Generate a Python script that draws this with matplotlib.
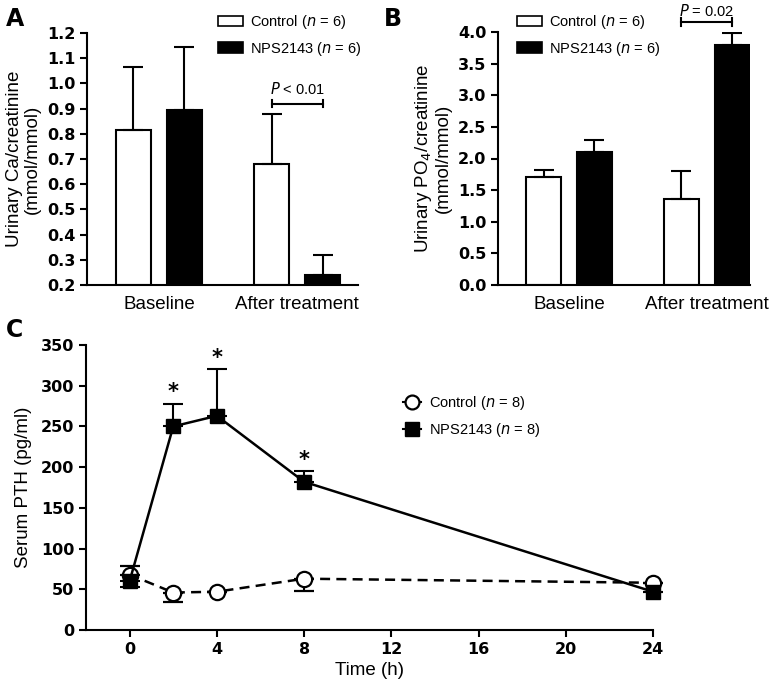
import numpy as np
import matplotlib
matplotlib.use('Agg')
import matplotlib.pyplot as plt
from matplotlib.patches import Patch
from matplotlib.lines import Line2D
from matplotlib.font_manager import FontProperties

# Panel A: urinary Ca/creatinine
groups = ['Baseline', 'After treatment']
ca_control = [0.815, 0.68]
ca_control_err = [0.25, 0.20]
ca_nps = [0.895, 0.24]
ca_nps_err = [0.25, 0.08]

# Panel B: urinary PO4/creatinine
po4_control = [1.70, 1.36]
po4_control_err = [0.12, 0.45]
po4_nps = [2.10, 3.80]
po4_nps_err = [0.20, 0.18]

# Panel C: serum PTH time course
hours = [0, 2, 4, 8, 24]
pth_control = [68, 46, 47, 63, 58]
pth_control_lo = [0, 11, 0, 15, 0]
pth_control_hi = [11, 0, 0, 0, 0]
pth_nps = [60, 250, 263, 182, 47]
pth_nps_lo = [7, 0, 0, 0, 0]
pth_nps_hi = [0, 28, 57, 13, 0]
star_hours = [2, 4, 8]

W, H = 783, 685
fig = plt.figure(figsize=(W / 100, H / 100), dpi=100)
plt.rcParams['font.family'] = ['Liberation Sans', 'DejaVu Sans']

tick_fp = FontProperties(family='DejaVu Sans', weight='bold', size=11.5)
LAB = 13.5
LEG = 10.5


def px_axes(left, top, right, bottom):
    return fig.add_axes([left / W, 1 - bottom / H, (right - left) / W, (bottom - top) / H])


def style(ax):
    for s in ['top', 'right']:
        ax.spines[s].set_visible(False)
    for s in ['left', 'bottom']:
        ax.spines[s].set_linewidth(1.5)
    ax.tick_params(width=1.5, length=5, direction='out')
    for lab in ax.get_yticklabels():
        lab.set_fontproperties(tick_fp)


def bar_panel(ax, ctrl, ctrl_err, nps, nps_err, bottom):
    x = np.arange(len(groups))
    off, w = 0.185, 0.254
    ek = dict(elinewidth=1.5, capsize=7, capthick=1.5, ecolor='black')
    ax.bar(x - off, np.array(ctrl) - bottom, w, bottom=bottom, color='white',
           edgecolor='black', linewidth=1.5,
           yerr=[np.zeros(len(ctrl)), ctrl_err], error_kw=ek, zorder=2)
    ax.bar(x + off, np.array(nps) - bottom, w, bottom=bottom, color='black',
           edgecolor='black', linewidth=1.5,
           yerr=[np.zeros(len(nps)), nps_err], error_kw=ek, zorder=2)
    ax.set_xticks(x)
    ax.set_xticklabels(groups, fontsize=LAB)
    return x, off


def bracket(ax, off, yb, tick, gap, label):
    ax.plot([1 - off, 1 + off], [yb, yb], color='black', lw=1.5, clip_on=False)
    for xx in (1 - off, 1 + off):
        ax.plot([xx, xx], [yb - tick, yb + tick], color='black', lw=1.5, clip_on=False)
    ax.text(1, yb + gap, label, ha='center', va='bottom', fontsize=LEG)


handles = [Patch(facecolor='white', edgecolor='black', linewidth=1.2),
           Patch(facecolor='black', edgecolor='black', linewidth=1.2)]
leg_kw = dict(loc='upper left', frameon=False, fontsize=LEG, handlelength=1.7,
              handleheight=0.75, handletextpad=0.5, labelspacing=0.6,
              borderaxespad=0, borderpad=0)

# ---- A ----
axA = px_axes(87, 33, 358, 285)
x, off = bar_panel(axA, ca_control, ca_control_err, ca_nps, ca_nps_err, 0.2)
axA.set_ylim(0.2, 1.2)
axA.set_xlim(-0.52, 1.44)
axA.set_yticks(np.arange(0.2, 1.21, 0.1))
axA.set_yticklabels([f'{v:.1f}' for v in np.arange(0.2, 1.21, 0.1)])
axA.set_ylabel('Urinary Ca/creatinine\n(mmol/mmol)', fontsize=LAB, labelpad=4,
               linespacing=1.1)
style(axA)
axA.tick_params(axis='x', length=0, pad=8)
bracket(axA, off, 0.92, 0.015, 0.025, '$\\it{P}$ < 0.01')
axA.legend(handles, ['Control ($\\it{n}$ = 6)', 'NPS2143 ($\\it{n}$ = 6)'],
           bbox_to_anchor=((218 - 87) / 271, 1 + 20 / 252), **leg_kw)
fig.text(6 / W, 1 - 19 / H, 'A', fontsize=17, fontweight='bold', va='center',
         family='DejaVu Sans')

# ---- B ----
axB = px_axes(498, 32, 750, 285)
x, off = bar_panel(axB, po4_control, po4_control_err, po4_nps, po4_nps_err, 0.0)
axB.set_ylim(0, 4.0)
axB.set_xlim(-0.516, 1.316)
axB.set_yticks(np.arange(0, 4.01, 0.5))
axB.set_yticklabels([f'{v:.1f}' for v in np.arange(0, 4.01, 0.5)])
axB.set_ylabel('Urinary PO$_4$/creatinine\n(mmol/mmol)', fontsize=LAB, labelpad=4,
               linespacing=1.1)
style(axB)
axB.tick_params(axis='x', length=0, pad=8)
bracket(axB, off, 4.16, 0.06, 0.05, '$\\it{P}$ = 0.02')
axB.legend(handles, ['Control ($\\it{n}$ = 6)', 'NPS2143 ($\\it{n}$ = 6)'],
           bbox_to_anchor=((517 - 498) / 252, 1 + 19 / 253), **leg_kw)
fig.text(384 / W, 1 - 19 / H, 'B', fontsize=17, fontweight='bold', va='center',
         family='DejaVu Sans')

# ---- C ----
axC = px_axes(86, 345, 653, 630)
axC.errorbar(hours, pth_control, yerr=[pth_control_lo, pth_control_hi], color='black',
             lw=1.8, ls=(0, (4, 2.5)), marker='o', markersize=11, markerfacecolor='white',
             markeredgewidth=1.6, capsize=7, capthick=1.5, elinewidth=1.5, zorder=3,
             clip_on=False)
axC.errorbar(hours, pth_nps, yerr=[pth_nps_lo, pth_nps_hi], color='black', lw=1.8,
             marker='s', markersize=10, capsize=7, capthick=1.5, elinewidth=1.5, zorder=4,
             clip_on=False)
for h in star_hours:
    i = hours.index(h)
    axC.text(h, pth_nps[i] + pth_nps_hi[i] + 2, '*', ha='center', va='bottom',
             fontsize=15, fontweight='bold', family='DejaVu Sans')
axC.set_xlim(-2, 24)
axC.set_ylim(0, 350)
axC.set_xticks([0, 4, 8, 12, 16, 20, 24])
axC.set_yticks(np.arange(0, 351, 50))
axC.set_xlabel('Time (h)', fontsize=LAB, labelpad=4)
axC.set_ylabel('Serum PTH (pg/ml)', fontsize=LAB, labelpad=6)
style(axC)
for lab in axC.get_xticklabels():
    lab.set_fontproperties(tick_fp)
lh = [Line2D([], [], color='black', lw=1.5, marker='o', markersize=10,
             markerfacecolor='white', markeredgewidth=1.6),
      Line2D([], [], color='black', lw=1.5, marker='s', markersize=10)]
axC.legend(lh, ['Control ($\\it{n}$ = 8)', 'NPS2143 ($\\it{n}$ = 8)'],
           loc='upper left', bbox_to_anchor=((403 - 86) / 567, 1 - 49 / 285),
           frameon=False, fontsize=LEG, handlelength=1.2, handletextpad=0.6,
           labelspacing=0.6, borderaxespad=0, borderpad=0)
fig.text(6 / W, 1 - 330 / H, 'C', fontsize=17, fontweight='bold', va='center',
         family='DejaVu Sans')

fig.savefig('out.png', dpi=100)
